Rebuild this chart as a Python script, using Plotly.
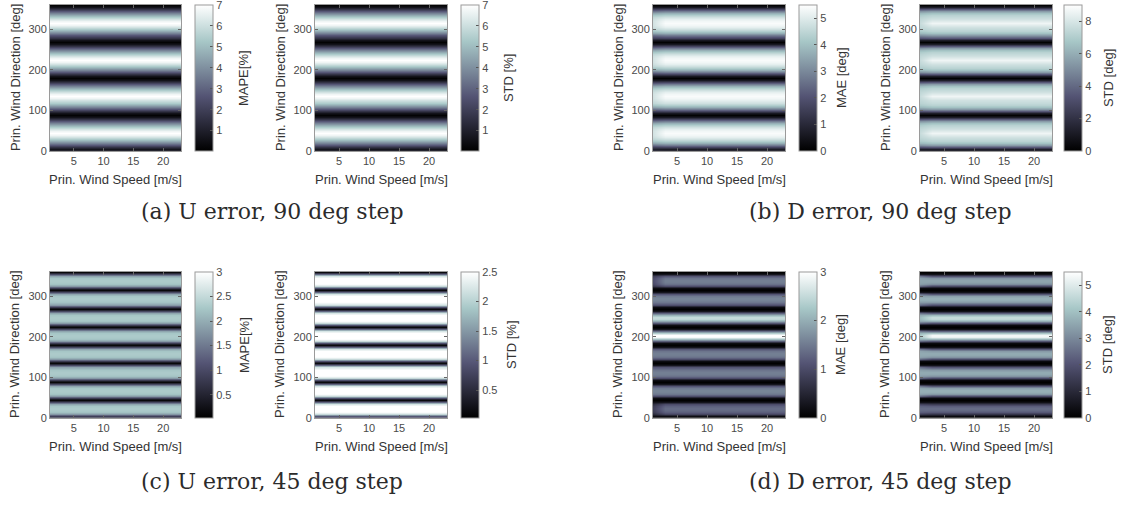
import plotly.graph_objects as go

# ---------------- data ----------------
speed_u = [1, 23]                         # prin. wind speed columns, U panels [m/s]
speed_d = [1, 3, 23]                      # prin. wind speed columns, D panels [m/s]
direction = list(range(0, 361, 5))        # prin. wind direction grid [deg]

# (a) U error, 90 deg step
u90_mape = [0.9, 0.7, 1.6, 2.7, 3.7, 4.6, 5.4, 6.1, 6.7, 7.0, 6.7, 6.1, 5.4, 4.6, 3.7, 2.7, 1.6, 0.6, 0.1,
            0.6, 1.6, 2.7, 3.7, 4.6, 5.4, 6.1, 6.7, 7.0, 6.7, 6.1, 5.4, 4.6, 3.7, 2.7, 1.6, 0.6, 0.1,
            0.6, 1.6, 2.7, 3.7, 4.6, 5.4, 6.1, 6.7, 7.0, 6.7, 6.1, 5.4, 4.6, 3.7, 2.7, 1.6, 0.6, 0.1,
            0.6, 1.6, 2.7, 3.7, 4.6, 5.4, 6.1, 6.7, 7.0, 6.7, 6.1, 5.4, 4.6, 3.7, 2.7, 1.6, 0.6, 0.1]
u90_std = [0.9, 0.7, 1.6, 2.7, 3.7, 4.6, 5.4, 6.1, 6.7, 7.0, 6.7, 6.1, 5.4, 4.6, 3.7, 2.7, 1.6, 0.6, 0.1,
           0.6, 1.6, 2.7, 3.7, 4.6, 5.4, 6.1, 6.7, 7.0, 6.7, 6.1, 5.4, 4.6, 3.7, 2.7, 1.6, 0.6, 0.1,
           0.6, 1.6, 2.7, 3.7, 4.6, 5.4, 6.1, 6.7, 7.0, 6.7, 6.1, 5.4, 4.6, 3.7, 2.7, 1.6, 0.6, 0.1,
           0.6, 1.6, 2.7, 3.7, 4.6, 5.4, 6.1, 6.7, 7.0, 6.7, 6.1, 5.4, 4.6, 3.7, 2.7, 1.6, 0.6, 0.1]

# (b) D error, 90 deg step  (main = speeds >= 3 m/s, low = 1 m/s)
d90_mae = [0.8, 0.7, 1.7, 2.8, 3.7, 4.3, 4.75, 5.1, 5.3, 5.4, 5.3, 5.1, 4.75, 4.3, 3.7, 2.8, 1.7, 0.6, 0.05,
           0.6, 1.7, 2.8, 3.7, 4.3, 4.75, 5.1, 5.3, 5.4, 5.3, 5.1, 4.75, 4.3, 3.7, 2.8, 1.7, 0.6, 0.05,
           0.6, 1.7, 2.8, 3.7, 4.3, 4.75, 5.1, 5.3, 5.4, 5.3, 5.1, 4.75, 4.3, 3.7, 2.8, 1.7, 0.6, 0.05,
           0.6, 1.7, 2.8, 3.7, 4.3, 4.75, 5.1, 5.3, 5.4, 5.3, 5.1, 4.75, 4.3, 3.7, 2.8, 1.7, 0.6, 0.05]
d90_mae_low = [1.0, 0.8, 1.6, 2.6, 3.5, 4.1, 4.5, 4.7, 4.8, 4.8, 4.8, 4.7, 4.5, 4.1, 3.5, 2.6, 1.6, 0.6, 0.05,
               0.6, 1.6, 2.6, 3.5, 4.1, 4.5, 4.7, 4.8, 4.8, 4.8, 4.7, 4.5, 4.1, 3.5, 2.6, 1.6, 0.6, 0.05,
               0.6, 1.6, 2.6, 3.5, 4.1, 4.5, 4.7, 4.8, 4.8, 4.8, 4.7, 4.5, 4.1, 3.5, 2.6, 1.6, 0.6, 0.05,
               0.6, 1.6, 2.6, 3.5, 4.1, 4.5, 4.7, 4.8, 4.8, 4.8, 4.7, 4.5, 4.1, 3.5, 2.6, 1.6, 0.6, 0.05]
d90_std = [1.0, 1.2, 3.5, 5.5, 6.6, 7.2, 7.5, 7.8, 8.2, 8.6, 8.2, 7.8, 7.5, 7.2, 6.6, 5.5, 3.5, 1.2, 0.1,
           1.2, 3.5, 5.5, 6.6, 7.2, 7.5, 7.8, 8.2, 8.6, 8.2, 7.8, 7.5, 7.2, 6.6, 5.5, 3.5, 1.2, 0.1,
           1.2, 3.5, 5.5, 6.6, 7.2, 7.5, 7.8, 8.2, 8.6, 8.2, 7.8, 7.5, 7.2, 6.6, 5.5, 3.5, 1.2, 0.1,
           1.2, 3.5, 5.5, 6.6, 7.2, 7.5, 7.8, 8.2, 8.6, 8.2, 7.8, 7.5, 7.2, 6.6, 5.5, 3.5, 1.2, 0.1]
d90_std_low = [1.2, 1.2, 3.3, 5.2, 6.3, 6.9, 7.2, 7.4, 7.5, 7.6, 7.5, 7.4, 7.2, 6.9, 6.3, 5.2, 3.3, 1.2, 0.1,
               1.2, 3.3, 5.2, 6.3, 6.9, 7.2, 7.4, 7.5, 7.6, 7.5, 7.4, 7.2, 6.9, 6.3, 5.2, 3.3, 1.2, 0.1,
               1.2, 3.3, 5.2, 6.3, 6.9, 7.2, 7.4, 7.5, 7.6, 7.5, 7.4, 7.2, 6.9, 6.3, 5.2, 3.3, 1.2, 0.1,
               1.2, 3.3, 5.2, 6.3, 6.9, 7.2, 7.4, 7.5, 7.6, 7.5, 7.4, 7.2, 6.9, 6.3, 5.2, 3.3, 1.2, 0.1]

# (c) U error, 45 deg step
u45_mape = [0.6,
            0.9, 1.9, 2.25, 2.3, 2.3, 2.25, 1.9, 0.9, 0.05,
            0.9, 1.9, 2.25, 2.3, 2.3, 2.25, 1.9, 0.9, 0.05,
            0.9, 1.9, 2.25, 2.3, 2.3, 2.25, 1.9, 0.9, 0.05,
            0.9, 1.9, 2.25, 2.3, 2.3, 2.25, 1.9, 0.9, 0.05,
            0.9, 1.9, 2.25, 2.3, 2.3, 2.25, 1.9, 0.9, 0.05,
            0.9, 1.9, 2.25, 2.3, 2.3, 2.25, 1.9, 0.9, 0.05,
            0.9, 1.9, 2.25, 2.3, 2.3, 2.25, 1.9, 0.9, 0.05,
            0.9, 1.9, 2.25, 2.3, 2.3, 2.25, 1.9, 0.9, 0.05]
u45_std = [0.6,
           1.0, 2.2, 2.5, 2.5, 2.5, 2.5, 2.2, 1.0, 0.05,
           1.0, 2.2, 2.5, 2.5, 2.5, 2.5, 2.2, 1.0, 0.05,
           1.0, 2.2, 2.5, 2.5, 2.5, 2.5, 2.2, 1.0, 0.05,
           1.0, 2.2, 2.5, 2.5, 2.5, 2.5, 2.2, 1.0, 0.05,
           1.0, 2.2, 2.5, 2.5, 2.5, 2.5, 2.2, 1.0, 0.05,
           1.0, 2.2, 2.5, 2.5, 2.5, 2.5, 2.2, 1.0, 0.05,
           1.0, 2.2, 2.5, 2.5, 2.5, 2.5, 2.2, 1.0, 0.05,
           1.0, 2.2, 2.5, 2.5, 2.5, 2.5, 2.2, 1.0, 0.05]

# (d) D error, 45 deg step  (main = speeds >= 3 m/s, low = 1 m/s)
d45_mae = [0.0,
           0.2, 1.0, 1.25, 1.35, 1.35, 1.25, 1.0, 0.2, 0.0,
           0.2, 1.1, 1.5, 1.6, 1.6, 1.5, 1.1, 0.2, 0.0,
           0.2, 1.1, 1.45, 1.55, 1.55, 1.45, 1.1, 0.2, 0.0,
           0.2, 1.1, 1.45, 1.55, 1.55, 1.45, 1.1, 0.2, 0.0,
           0.2, 1.3, 2.3, 3.0, 3.0, 2.3, 1.3, 0.2, 0.0,
           0.2, 1.2, 2.0, 2.5, 2.5, 2.0, 1.2, 0.2, 0.0,
           0.2, 1.1, 1.5, 1.6, 1.6, 1.5, 1.1, 0.2, 0.0,
           0.2, 1.1, 1.45, 1.55, 1.55, 1.45, 1.1, 0.2, 0.0]
d45_mae_low = [0.0,
               0.2, 0.6, 0.8, 0.85, 0.85, 0.8, 0.6, 0.2, 0.0,
               0.2, 1.1, 1.5, 1.6, 1.6, 1.5, 1.1, 0.2, 0.0,
               0.2, 1.1, 1.45, 1.55, 1.55, 1.45, 1.1, 0.2, 0.0,
               0.2, 1.1, 1.45, 1.55, 1.55, 1.45, 1.1, 0.2, 0.0,
               0.2, 1.3, 2.3, 3.0, 3.0, 2.3, 1.3, 0.2, 0.0,
               0.2, 1.2, 2.0, 2.5, 2.5, 2.0, 1.2, 0.2, 0.0,
               0.2, 1.1, 1.5, 1.6, 1.6, 1.5, 1.1, 0.2, 0.0,
               0.2, 0.8, 1.0, 1.05, 1.05, 1.0, 0.8, 0.2, 0.0]
d45_std = [0.0,
           0.3, 1.4, 2.2, 2.5, 2.5, 2.2, 1.4, 0.3, 0.0,
           0.3, 2.0, 3.4, 3.7, 3.7, 3.4, 2.0, 0.3, 0.0,
           0.3, 2.0, 3.3, 3.6, 3.6, 3.3, 2.0, 0.3, 0.0,
           0.3, 2.0, 3.3, 3.6, 3.6, 3.3, 2.0, 0.3, 0.0,
           0.3, 2.2, 4.0, 5.3, 5.3, 4.0, 2.2, 0.3, 0.0,
           0.3, 2.1, 3.8, 4.6, 4.6, 3.8, 2.1, 0.3, 0.0,
           0.3, 2.0, 3.4, 3.7, 3.7, 3.4, 2.0, 0.3, 0.0,
           0.3, 1.9, 3.2, 3.5, 3.5, 3.2, 1.9, 0.3, 0.0]
d45_std_low = [0.0,
               0.3, 1.6, 2.3, 2.5, 2.5, 2.3, 1.6, 0.3, 0.0,
               0.3, 2.6, 3.5, 3.7, 3.7, 3.5, 2.6, 0.3, 0.0,
               0.3, 2.5, 3.4, 3.6, 3.6, 3.4, 2.5, 0.3, 0.0,
               0.3, 2.6, 3.5, 3.6, 3.6, 3.5, 2.6, 0.3, 0.0,
               0.3, 2.6, 3.8, 4.2, 4.2, 3.8, 2.6, 0.3, 0.0,
               0.3, 2.5, 3.6, 3.9, 3.9, 3.6, 2.5, 0.3, 0.0,
               0.3, 2.5, 3.4, 3.7, 3.7, 3.4, 2.5, 0.3, 0.0,
               0.3, 2.6, 3.4, 3.5, 3.5, 3.4, 2.6, 0.3, 0.0]

x_ticks = [5, 10, 15, 20]
y_ticks = [0, 100, 200, 300]

cbar_titles = ["MAPE[%]", "STD [%]", "MAE [deg]", "STD [deg]",
               "MAPE[%]", "STD [%]", "MAE [deg]", "STD [deg]"]
cbar_ranges = [(0.02, 7.001), (0.02, 7.001), (0, 5.5), (0, 9),
               (0.03, 3.001), (0.03, 2.501), (0, 3.001), (0, 5.5)]
cbar_ticks = [[1, 2, 3, 4, 5, 6, 7], [1, 2, 3, 4, 5, 6, 7], [0, 1, 2, 3, 4, 5], [0, 2, 4, 6, 8],
              [0.5, 1, 1.5, 2, 2.5, 3], [0.5, 1, 1.5, 2, 2.5], [0, 1, 2, 3], [0, 1, 2, 3, 4, 5]]

# per panel: speed columns and one direction profile per speed column
panel_speeds = [speed_u, speed_u, speed_d, speed_d, speed_u, speed_u, speed_d, speed_d]
panel_columns = [
    [u90_mape, u90_mape], [u90_std, u90_std],
    [d90_mae_low, d90_mae, d90_mae], [d90_std_low, d90_std, d90_std],
    [u45_mape, u45_mape], [u45_std, u45_std],
    [d45_mae_low, d45_mae, d45_mae], [d45_std_low, d45_std, d45_std],
]

captions = ["(a) U error, 90 deg step", "(b) D error, 90 deg step",
            "(c) U error, 45 deg step", "(d) D error, 45 deg step"]

# ---------------- layout geometry (pixels) ----------------
W, H = 1123, 508
plot_cols = [(50, 181), (315, 447), (653, 785), (920, 1052)]
cbar_left = [195, 461, 799, 1064]
cbar_title_x = [243, 508, 841, 1108, 245, 512, 841, 1108]
rows = [(5, 153), (275, 423)]
caption_pos = [(272, 214), (880, 214), (272, 487), (880, 487)]

# MATLAB "bone" colormap
bone = [[0.0, "rgb(0,0,0)"], [0.375, "rgb(84,84,116)"],
        [0.75, "rgb(167,199,199)"], [1.0, "rgb(255,255,255)"]]

SANS = "Liberation Sans, Arial, sans-serif"
TICK_FONT = dict(family=SANS, size=11, color="#4a4a4a")
TITLE_FONT = dict(family=SANS, size=13, color="#333333")


def fx(px):
    return px / W


def fy(py):
    return 1 - py / H


fig = go.Figure()
annotations = []
layout_axes = {}

for i in range(8):
    r, c = divmod(i, 4)
    n = i + 1
    x0, x1 = plot_cols[c]
    top, bot = rows[r]
    zmin, zmax = cbar_ranges[i]
    cols = panel_columns[i]
    z = [[col[j] for col in cols] for j in range(len(direction))]

    fig.add_trace(go.Heatmap(
        x=panel_speeds[i], y=direction, z=z,
        zsmooth="best", colorscale=bone, zmin=zmin, zmax=zmax,
        xaxis=f"x{n}", yaxis=f"y{n}",
        colorbar=dict(
            x=fx(cbar_left[c]), xanchor="left", xref="paper", xpad=0,
            y=fy((top + bot) / 2), yanchor="middle", yref="paper", ypad=0,
            len=(bot - top) / H, lenmode="fraction",
            thickness=18, thicknessmode="pixels",
            outlinewidth=1, outlinecolor="#9a9a9a",
            tickvals=cbar_ticks[i], ticks="inside", ticklen=3, tickcolor="#555",
            tickfont=TICK_FONT, ticklabeloverflow="allow",
        ),
    ))

    xa = "xaxis" if n == 1 else f"xaxis{n}"
    ya = "yaxis" if n == 1 else f"yaxis{n}"
    layout_axes[xa] = dict(
        domain=[fx(x0), fx(x1)], anchor=f"y{n}", range=[1, 23], tickvals=x_ticks,
        ticks="inside", ticklen=3, tickcolor="#666", showline=True, linecolor="#9a9a9a",
        linewidth=1, mirror="ticks", showgrid=False, zeroline=False, tickfont=TICK_FONT,
    )
    layout_axes[ya] = dict(
        domain=[fy(bot), fy(top)], anchor=f"x{n}", range=[0, 360], tickvals=y_ticks,
        ticks="inside", ticklen=3, tickcolor="#666", showline=True, linecolor="#9a9a9a",
        linewidth=1, mirror="ticks", showgrid=False, zeroline=False, tickfont=TICK_FONT,
    )

    annotations.append(dict(
        text="Prin. Wind Speed [m/s]", x=fx((x0 + x1) / 2), y=fy(bot + 29),
        xref="paper", yref="paper", xanchor="center", yanchor="middle",
        showarrow=False, font=TITLE_FONT))
    annotations.append(dict(
        text="Prin. Wind Direction [deg]", x=fx(x0 - 35), y=fy((top + bot) / 2),
        xref="paper", yref="paper", xanchor="center", yanchor="middle",
        textangle=-90, showarrow=False, font=TITLE_FONT))
    annotations.append(dict(
        text=cbar_titles[i], x=fx(cbar_title_x[i]), y=fy((top + bot) / 2),
        xref="paper", yref="paper", xanchor="center", yanchor="middle",
        textangle=-90, showarrow=False, font=TITLE_FONT))

for text, (cx, cy) in zip(captions, caption_pos):
    annotations.append(dict(
        text=text, x=fx(cx), y=fy(cy), xref="paper", yref="paper",
        xanchor="center", yanchor="middle", showarrow=False,
        font=dict(family="DejaVu Serif, serif", size=22, color="#2b2b2b")))

fig.update_layout(
    width=W, height=H, margin=dict(l=0, r=0, t=0, b=0),
    paper_bgcolor="white", plot_bgcolor="white",
    showlegend=False, annotations=annotations, **layout_axes,
)

fig.write_html("out.html")
